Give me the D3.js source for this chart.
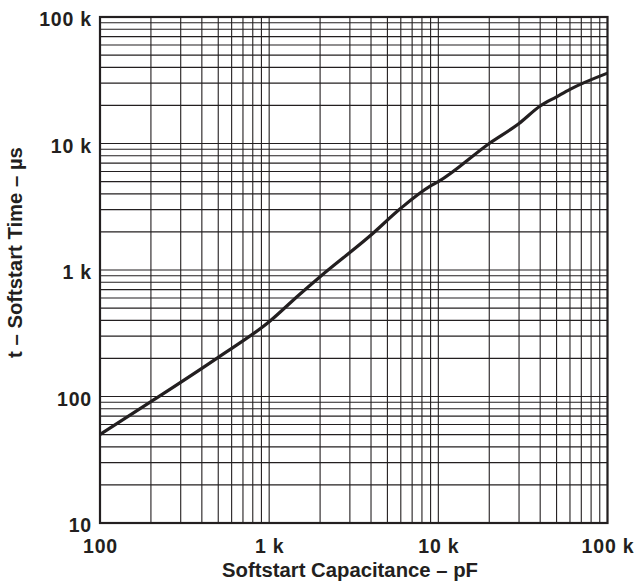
<!DOCTYPE html>
<html>
<head>
<meta charset="utf-8">
<script src="https://cdn.jsdelivr.net/npm/d3@7"></script>
<style>
  html, body { margin: 0; padding: 0; background: #fff; }
  text { font-family: Arial, "Liberation Sans", Helvetica, sans-serif; font-weight: bold; fill: #231f20; }
</style>
</head>
<body>
<svg id="chart" width="637" height="584"></svg>
<script>
// Data (capacitance in pF, time in µs)
const capacitance = [100, 200, 500, 1000, 1500, 2000, 4000, 6000, 9000, 10000, 20000, 30000, 40000, 50000, 60000, 100000];
const softstartTime = [50, 91, 204, 390, 635, 885, 1890, 3076, 4615, 4990, 10000, 14400, 19800, 23400, 26800, 36000];

const xTickValues = [100, 1000, 10000, 100000];
const xTickLabels = ["100", "1 k", "10 k", "100 k"];
const yTickValues = [10, 100, 1000, 10000, 100000];
const yTickLabels = ["10", "100", "1 k", "10 k", "100 k"];

const xTitle = "Softstart Capacitance \u2013 pF";
const yTitle = "t \u2013 Softstart Time \u2013 \u00b5s";

(function () {
const svg = d3.select("#chart");
const pL = 100, pR = 607.5, pT = 17, pB = 523;

const x = d3.scaleLog().domain([100, 100000]).range([pL, pR]);
const y = d3.scaleLog().domain([10, 100000]).range([pB, pT]);

function logGrid(lo, hi) {
  const out = [];
  for (let d = lo; d < hi; d *= 10) {
    for (let m = 1; m <= 9; m++) out.push(d * m);
  }
  out.push(hi);
  return out;
}
const xGrid = logGrid(100, 100000);
const yGrid = logGrid(10, 100000);

const g = svg.append("g");

g.selectAll("line.vg").data(xGrid).enter().append("line")
  .attr("class", "vg")
  .attr("x1", d => x(d)).attr("x2", d => x(d))
  .attr("y1", pT).attr("y2", pB)
  .attr("stroke", "#231f20").attr("stroke-width", 1.1);

g.selectAll("line.hg").data(yGrid).enter().append("line")
  .attr("class", "hg")
  .attr("y1", d => y(d)).attr("y2", d => y(d))
  .attr("x1", pL).attr("x2", pR)
  .attr("stroke", "#231f20").attr("stroke-width", 1.1);

g.append("rect").attr("x", pL).attr("y", pT)
  .attr("width", pR - pL).attr("height", pB - pT)
  .attr("fill", "none").attr("stroke", "#231f20").attr("stroke-width", 2.2);

const tickFont = 19.5;
const xAxis = d3.axisBottom(x).tickValues(xTickValues)
  .tickFormat((d, i) => xTickLabels[i]).tickSize(0).tickPadding(8);
const xa = svg.append("g").attr("transform", `translate(0,${pB})`).call(xAxis);
xa.select(".domain").remove();
xa.selectAll("text").attr("font-size", tickFont).attr("letter-spacing", 0.8)
  .attr("font-family", "Arial, 'Liberation Sans', sans-serif").attr("font-weight", "bold").attr("fill", "#231f20")
  .attr("y", 29.5).attr("dy", 0);

const yAxis = d3.axisLeft(y).tickValues(yTickValues)
  .tickFormat((d, i) => yTickLabels[i]).tickSize(0).tickPadding(8);
const ya = svg.append("g").attr("transform", `translate(${pL},0)`).call(yAxis);
ya.select(".domain").remove();
ya.selectAll("text").attr("font-size", tickFont).attr("letter-spacing", 0.8)
  .attr("font-family", "Arial, 'Liberation Sans', sans-serif").attr("font-weight", "bold").attr("fill", "#231f20")
  .attr("dy", 8.5);

const line = d3.line().x((d, i) => x(capacitance[i])).y(d => y(d)).curve(d3.curveMonotoneX);
svg.append("path").datum(softstartTime)
  .attr("d", line).attr("fill", "none")
  .attr("stroke", "#231f20").attr("stroke-width", 3.2).attr("stroke-linejoin", "round");

svg.append("text").attr("x", 350).attr("y", 577)
  .attr("text-anchor", "middle").attr("font-size", 20.3).text(xTitle);
svg.append("text").attr("transform", `translate(21.5,252.5) rotate(-90)`)
  .attr("text-anchor", "middle").attr("font-size", 20.3).text(yTitle);
})();
</script>
</body>
</html>
